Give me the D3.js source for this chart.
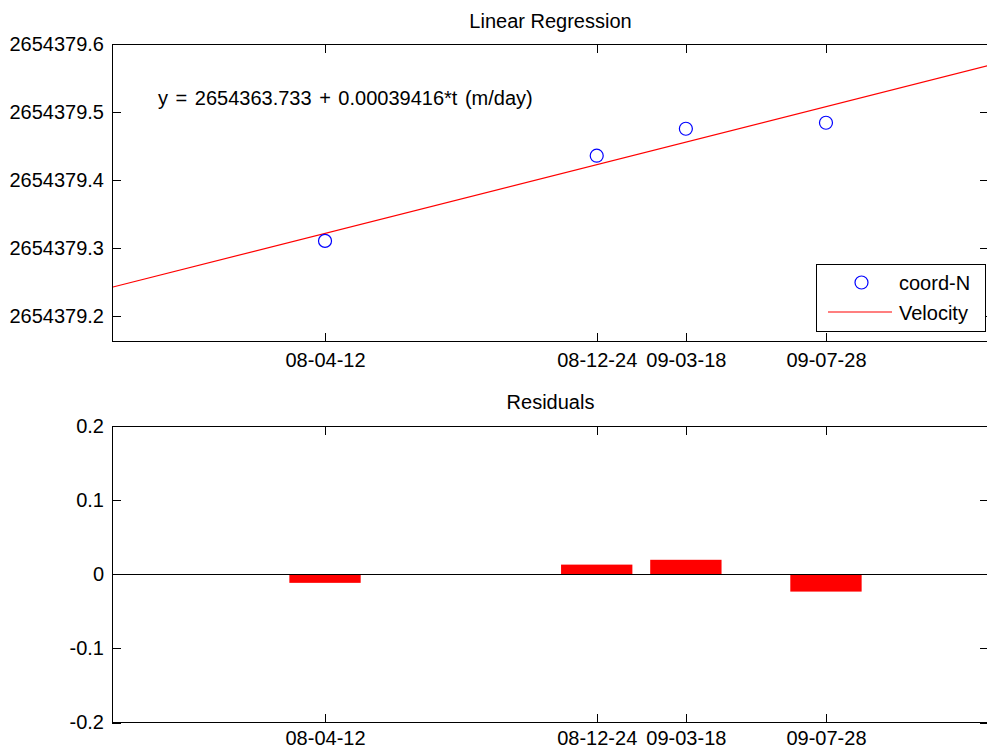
<!DOCTYPE html>
<html>
<head>
<meta charset="utf-8">
<script src="https://cdn.jsdelivr.net/npm/d3@7"></script>
<style>
  body { margin: 0; background: #fff; }
  text { font-family: "Liberation Sans", Arial, sans-serif; }
</style>
</head>
<body>
<div id="chart"></div>
<script>
// Datos
const dates = ["2008-04-12", "2008-12-24", "2009-03-18", "2009-07-28"]
const tickLabels = ["08-04-12", "08-12-24", "09-03-18", "09-07-28"]
const coordN = [2654379.311, 2654379.436, 2654379.4756, 2654379.4844]
const residuals = [-0.0116, 0.013, 0.0195, -0.0234]
const yTicksTop = [2654379.2, 2654379.3, 2654379.4, 2654379.5, 2654379.6]
const yTicksRes = [-0.2, -0.1, 0, 0.1, 0.2]

// recta de regresion: t en dias (serial tipo Excel)
const intercept = 2654363.733
const slope = 0.00039416
const xLimits = [39349.3, 40175.6]
const yLimitsTop = [2654379.1633, 2654379.6]
const yLimitsRes = [-0.2, 0.2]

const width = 987
const height = 749
const fontSize = 20
const tick = 9

const serial = s => {
  const [y, m, d] = s.split("-").map(Number)
  return (Date.UTC(y, m - 1, d) - Date.UTC(1899, 11, 30)) / 86400000
}
const t = dates.map(serial)

// MATLAB usa guion normal, no el signo menos unicode
const fmtRes = d => d3.format(".1~f")(d).replace("\u2212", "-")

const svg = d3.select("#chart")
  .append("svg")
  .attr("width", width)
  .attr("height", height)
  .style("background", "#fff")

const x = d3.scaleLinear().domain(xLimits).range([112, 989])

// Ejes estilo MATLAB: caja completa, ticks hacia dentro
function drawBox(g, y, yTicks, yFmt, xPad) {
  const [x0, x1] = x.range()
  const [y1, y0] = y.range()

  g.append("g")
    .attr("transform", `translate(0, ${y1})`)
    .call(d3.axisBottom(x).tickValues(t).tickFormat((d, i) => tickLabels[i])
      .tickSizeInner(-tick).tickSizeOuter(0).tickPadding(xPad))
  g.append("g")
    .attr("transform", `translate(0, ${y0})`)
    .call(d3.axisTop(x).tickValues(t).tickFormat("").tickSizeInner(-tick).tickSizeOuter(0))
  g.append("g")
    .attr("transform", `translate(${x0}, 0)`)
    .call(d3.axisLeft(y).tickValues(yTicks).tickFormat(yFmt)
      .tickSizeInner(-tick).tickSizeOuter(0).tickPadding(8))
  g.append("g")
    .attr("transform", `translate(${x1}, 0)`)
    .call(d3.axisRight(y).tickValues(yTicks).tickFormat("").tickSizeInner(-tick).tickSizeOuter(0))

  g.selectAll(".domain").remove()
  g.selectAll(".tick line").attr("stroke", "#000").attr("shape-rendering", "crispEdges")
  g.selectAll(".tick text")
    .attr("fill", "#000")
    .style("font-size", fontSize + "px")
    .style("font-family", "'Liberation Sans', Arial, sans-serif")

  g.append("rect")
    .attr("x", x0).attr("y", y0)
    .attr("width", x1 - x0).attr("height", y1 - y0)
    .attr("fill", "none").attr("stroke", "#000")
    .attr("shape-rendering", "crispEdges")
}

//------------- Linear Regression
const yTop = d3.scaleLinear().domain(yLimitsTop).range([341.5, 44])
const topGroup = svg.append("g").attr("id", "topGroup")

const fitLine = d3.line()
  .x(d => x(d))
  .y(d => yTop(intercept + slope * d))

topGroup.append("path")
  .datum(xLimits)
  .attr("d", fitLine)
  .attr("fill", "none")
  .attr("stroke", "#ff0000")
  .attr("stroke-width", 1.2)

topGroup.selectAll("circle")
  .data(coordN)
  .enter()
  .append("circle")
  .attr("cx", (d, i) => x(t[i]))
  .attr("cy", d => yTop(d))
  .attr("r", 6.5)
  .attr("fill", "none")
  .attr("stroke", "#0000ff")
  .attr("stroke-width", 1.2)

drawBox(topGroup, yTop, yTicksTop, d3.format(".1f"), 11)

topGroup.append("text")
  .attr("x", (x.range()[0] + x.range()[1]) / 2)
  .attr("y", 27.5)
  .attr("text-anchor", "middle")
  .style("font-size", fontSize + "px")
  .text("Linear Regression")

topGroup.append("text")
  .attr("x", 158)
  .attr("y", 105)
  .style("font-size", fontSize + "px")
  .style("word-spacing", "2px")
  .text(`y = ${intercept} + ${slope}*t (m/day)`)

// leyenda
const legend = topGroup.append("g").attr("id", "legend")
legend.append("rect")
  .attr("x", 816.5).attr("y", 264.5)
  .attr("width", 169).attr("height", 67)
  .attr("fill", "#fff").attr("stroke", "#000")
  .attr("shape-rendering", "crispEdges")
legend.append("circle")
  .attr("cx", 861.5).attr("cy", 282.5).attr("r", 6.5)
  .attr("fill", "none").attr("stroke", "#0000ff").attr("stroke-width", 1.2)
legend.append("line")
  .attr("x1", 828).attr("x2", 892).attr("y1", 312).attr("y2", 312)
  .attr("stroke", "#ff0000").attr("stroke-width", 1.2)
legend.selectAll("text.lbl")
  .data(["coord-N", "Velocity"])
  .enter()
  .append("text")
  .attr("class", "lbl")
  .attr("x", 899)
  .attr("y", (d, i) => 289.5 + i * 30)
  .style("font-size", fontSize + "px")
  .text(d => d)

//------------- Residuals
const yRes = d3.scaleLinear().domain(yLimitsRes).range([722.5, 426])
const resGroup = svg.append("g").attr("id", "resGroup")

const barDays = 0.8 * d3.min(d3.pairs(t), p => p[1] - p[0])

resGroup.selectAll("rect.bar")
  .data(residuals)
  .enter()
  .append("rect")
  .attr("class", "bar")
  .attr("x", (d, i) => x(t[i] - barDays / 2))
  .attr("width", (d, i) => x(t[i] + barDays / 2) - x(t[i] - barDays / 2))
  .attr("y", d => yRes(Math.max(0, d)))
  .attr("height", d => Math.abs(yRes(d) - yRes(0)))
  .attr("fill", "#ff0000")

resGroup.append("line")
  .attr("x1", x.range()[0]).attr("x2", x.range()[1])
  .attr("y1", yRes(0)).attr("y2", yRes(0))
  .attr("stroke", "#000")
  .attr("shape-rendering", "crispEdges")

drawBox(resGroup, yRes, yTicksRes, fmtRes, 8)

resGroup.append("text")
  .attr("x", (x.range()[0] + x.range()[1]) / 2)
  .attr("y", 409)
  .attr("text-anchor", "middle")
  .style("font-size", fontSize + "px")
  .text("Residuals")
</script>
</body>
</html>
